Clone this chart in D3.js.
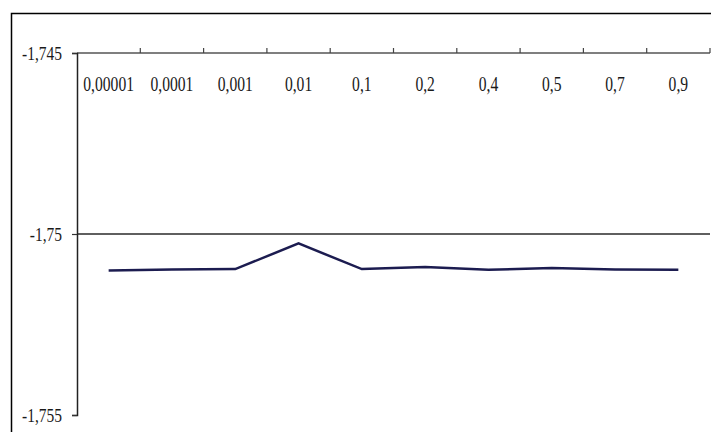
<!DOCTYPE html>
<html>
<head>
<meta charset="utf-8">
<script src="https://cdn.jsdelivr.net/npm/d3@7/dist/d3.min.js"></script>
<style>
  html, body { margin: 0; padding: 0; background: #fff; }
  svg { display: block; }
</style>
</head>
<body>
<svg id="chart" width="711" height="432"></svg>
<script>
const categories = ["0,00001", "0,0001", "0,001", "0,01", "0,1", "0,2", "0,4", "0,5", "0,7", "0,9"];
const values = [-1.75101, -1.75098, -1.75097, -1.75026, -1.75097, -1.75091, -1.75099, -1.75094, -1.75098, -1.75099];
const yTicks = [-1.745, -1.75, -1.755];
const yTickLabels = ["-1,745", "-1,75", "-1,755"];
const gridTicks = [-1.75];

const svg = d3.select("#chart");
const W = 711, H = 432;
const plot = { left: 77, right: 710, top: 53, bottom: 415 };

// outer frame (clipped on right/bottom as in the reference)
svg.append("rect")
  .attr("x", 11.5).attr("y", 13.5)
  .attr("width", W).attr("height", H)
  .attr("fill", "#fff").attr("stroke", "#000").attr("stroke-width", 1.5);

const x = d3.scaleBand().domain(categories).range([plot.left, plot.right]).padding(0);
const y = d3.scaleLinear().domain([-1.755, -1.745]).range([plot.bottom, plot.top]);

// gridline
svg.append("g").selectAll("line").data(gridTicks).join("line")
  .attr("x1", plot.left).attr("x2", plot.right)
  .attr("y1", d => y(d)).attr("y2", d => y(d))
  .attr("stroke", "#5f5f5f").attr("stroke-width", 2);

// category axis at top (y = -1.745)
const catAxisY = y(-1.745);
svg.append("line")
  .attr("x1", plot.left).attr("x2", plot.right)
  .attr("y1", catAxisY).attr("y2", catAxisY)
  .attr("stroke", "#555").attr("stroke-width", 1.6);

const boundaries = categories.slice(1).map(c => x(c)).concat([plot.right]);
svg.append("g").selectAll("line").data(boundaries).join("line")
  .attr("x1", d => d).attr("x2", d => d)
  .attr("y1", catAxisY).attr("y2", catAxisY - 5)
  .attr("stroke", "#444").attr("stroke-width", 1.2);

svg.append("g").selectAll("text").data(categories).join("text")
  .attr("transform", d => `translate(${x(d) + x.bandwidth() / 2},91) scale(0.78,1)`)
  .attr("text-anchor", "middle")
  .attr("font-family", "'Liberation Serif', 'Times New Roman', serif")
  .attr("font-size", 20)
  .attr("fill", "#1a1a1a")
  .text(d => d);

// value axis on the left
const yAxis = d3.axisLeft(y)
  .tickValues(yTicks)
  .tickSize(5)
  .tickPadding(0)
  .tickFormat((d, i) => yTickLabels[i]);
const gy = svg.append("g").attr("transform", `translate(${plot.left},0)`).call(yAxis);
gy.select(".domain").attr("stroke", "#222").attr("stroke-width", 1.5);
gy.selectAll(".tick line").attr("stroke", "#333").attr("stroke-width", 1.2);
gy.selectAll(".tick text")
  .attr("x", null).attr("dy", null)
  .attr("transform", "translate(-15,6) scale(0.86,1)")
  .attr("text-anchor", "end")
  .attr("font-family", "'Liberation Serif', 'Times New Roman', serif")
  .attr("font-size", 18)
  .attr("fill", "#1a1a1a");

// data line
const line = d3.line()
  .x((d, i) => x(categories[i]) + x.bandwidth() / 2)
  .y(d => y(d));
svg.append("path")
  .datum(values)
  .attr("d", line)
  .attr("fill", "none")
  .attr("stroke", "#1c1c50")
  .attr("stroke-width", 2.5)
  .attr("stroke-linejoin", "miter");
</script>
</body>
</html>
